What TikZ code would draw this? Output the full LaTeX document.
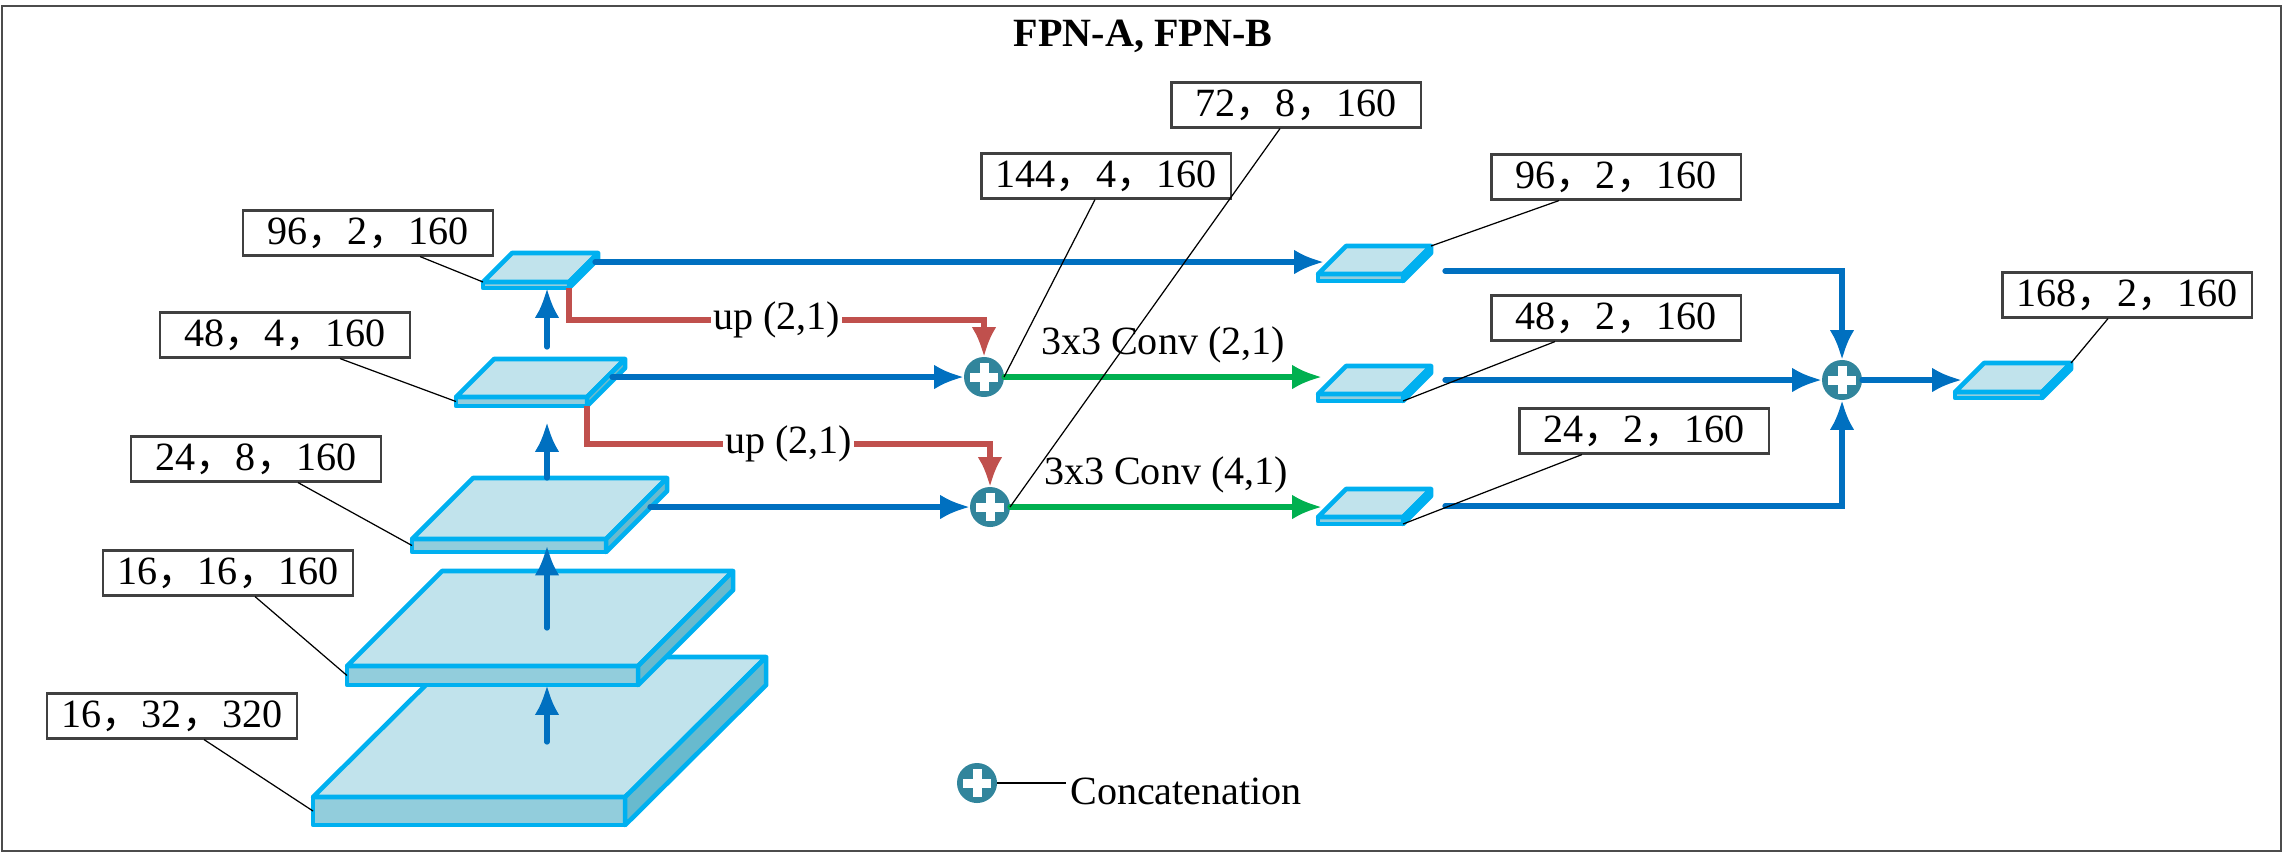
\documentclass[tikz,border=0pt]{standalone}
\usepackage{fontspec}
\setmainfont{Liberation Serif}
\newfontfamily\cjk{Noto Sans CJK SC}
\usetikzlibrary{arrows.meta}
\usetikzlibrary{positioning}

\newcommand{\dcomma}{{\cjk ，}}

\definecolor{slabline}{RGB}{0,176,240}
\definecolor{slabtop}{RGB}{193,227,236}
\definecolor{slabfront}{RGB}{146,205,220}
\definecolor{slabside}{RGB}{104,186,206}
\definecolor{arrblue}{RGB}{0,112,192}
\definecolor{arrred}{RGB}{192,80,77}
\definecolor{arrgreen}{RGB}{0,176,80}
\definecolor{plusteal}{RGB}{49,133,156}
\definecolor{boxgray}{RGB}{64,64,64}

\begin{document}
\begin{tikzpicture}[
    x=0.01cm, y=-0.01cm,
    font=\fontsize{11.4pt}{13pt}\selectfont,
    outerframe/.style={draw=gray!60!black, line width=0.7pt},
    box/.style={
        rectangle,
        draw=boxgray,
        line width=0.6pt,
        fill=white,
        minimum width={2.49cm},
        minimum height={0.45cm},
        inner sep=0pt
    },
    facefront/.style={
        rectangle,
        draw=slabline,
        fill=slabfront,
        line width=1.3pt,
        line join=round,
        inner sep=0pt,
        outer sep=0pt,
        anchor=north west
    },
    facetop/.style={draw=slabline, fill=slabtop, line width=1.3pt, line join=round},
    faceside/.style={draw=slabline, fill=slabside, line width=1.3pt, line join=round},
    plus/.style={
        circle,
        fill=plusteal,
        minimum size={0.4cm},
        inner sep=0pt,
        outer sep=0pt,
        path picture={
            \fill[white] ([xshift=-1.4mm,yshift=-0.45mm]path picture bounding box.center) rectangle ([xshift=1.4mm,yshift=0.45mm]path picture bounding box.center);
            \fill[white] ([xshift=-0.45mm,yshift=-1.4mm]path picture bounding box.center) rectangle ([xshift=0.45mm,yshift=1.4mm]path picture bounding box.center);
        }
    },
    arr/.style={-{Latex[length=8.5pt,width=7pt]}, line width=1.5pt, line cap=round},
    bluearr/.style={arr, draw=arrblue},
    redarr/.style={arr, draw=arrred, line cap=butt},
    greenarr/.style={arr, draw=arrgreen},
    uplabel/.style={fill=white, inner sep=0.5pt},
    leader/.style={draw=black, line width=0.35pt}
]
\useasboundingbox (0,0) rectangle (2283,854);
\draw[outerframe] (2,6) rectangle (2281,851);
\node [font=\fontsize{11.4pt}{13pt}\selectfont\bfseries] (title) at (1143,36) {FPN-A, FPN-B};

% left stack
\node [facefront, minimum width={3.12cm}, minimum height={0.28cm}] (s1) at (313,797) {};
\filldraw [facetop] (s1.north west) -- ++(141,-140) -- ++(312,0) -- (s1.north east) -- cycle;
\filldraw [faceside] (s1.north east) -- ++(141,-140) -- ++(0,28) -- (s1.south east) -- cycle;

\node [facefront, minimum width={2.91cm}, minimum height={0.19cm}] (s2) at (347,666) {};
\filldraw [facetop] (s2.north west) -- ++(95,-95) -- ++(291,0) -- (s2.north east) -- cycle;
\filldraw [faceside] (s2.north east) -- ++(95,-95) -- ++(0,19) -- (s2.south east) -- cycle;

\node [facefront, minimum width={1.94cm}, minimum height={0.13cm}] (s3) at (412,539) {};
\filldraw [facetop] (s3.north west) -- ++(61,-61) -- ++(194,0) -- (s3.north east) -- cycle;
\filldraw [faceside] (s3.north east) -- ++(61,-61) -- ++(0,13) -- (s3.south east) -- cycle;

\node [facefront, minimum width={1.31cm}, minimum height={0.09cm}] (s4) at (456,397) {};
\filldraw [facetop] (s4.north west) -- ++(38,-38) -- ++(131,0) -- (s4.north east) -- cycle;
\filldraw [faceside] (s4.north east) -- ++(38,-38) -- ++(0,9) -- (s4.south east) -- cycle;

\node [facefront, minimum width={0.86cm}, minimum height={0.06cm}] (s5) at (483,282) {};
\filldraw [facetop] (s5.north west) -- ++(29,-29) -- ++(86,0) -- (s5.north east) -- cycle;
\filldraw [faceside] (s5.north east) -- ++(29,-29) -- ++(0,6) -- (s5.south east) -- cycle;

% right slabs
\node [facefront, minimum width={0.85cm}, minimum height={0.07cm}] (s6) at (1318,274) {};
\filldraw [facetop] (s6.north west) -- ++(28,-28) -- ++(85,0) coordinate (s6br) -- (s6.north east) -- cycle;
\filldraw [faceside] (s6.north east) -- ++(28,-28) -- ++(0,7) -- (s6.south east) -- cycle;

\node [facefront, minimum width={0.85cm}, minimum height={0.07cm}] (s7) at (1318,394) {};
\filldraw [facetop] (s7.north west) -- ++(28,-28) -- ++(85,0) -- (s7.north east) -- cycle;
\filldraw [faceside] (s7.north east) -- ++(28,-28) -- ++(0,7) -- (s7.south east) -- cycle;

\node [facefront, minimum width={0.85cm}, minimum height={0.07cm}] (s8) at (1318,517) {};
\filldraw [facetop] (s8.north west) -- ++(28,-28) -- ++(85,0) -- (s8.north east) -- cycle;
\filldraw [faceside] (s8.north east) -- ++(28,-28) -- ++(0,7) -- (s8.south east) -- cycle;

\node [facefront, minimum width={0.87cm}, minimum height={0.06cm}] (s9) at (1955,392) {};
\filldraw [facetop] (s9.north west) -- ++(29,-29) -- ++(87,0) coordinate (s9br) -- (s9.north east) -- cycle;
\filldraw [faceside] (s9.north east) -- ++(29,-29) -- ++(0,6) -- (s9.south east) -- cycle;

% concatenations
\node [plus] (c1) at (984,377) {};
\node [plus] (c2) at (990,507) {};
\node [plus] (c3) at (1842,380) {};

\coordinate (v1) at (547,742);
\coordinate (v2) at (547,628);
\coordinate (v3) at (547,478);
\coordinate (t3) at (547,422);
\coordinate (v4) at (547,347);
\coordinate (s5o) at (595,262);
\coordinate (s4o) at (612,377);
\coordinate (s3o) at (650,507);
\coordinate (s6i) at (1324,262);
\coordinate (s7i) at (1322,377);
\coordinate (s8i) at (1322,507);
\coordinate (s6o) at (1445,271);
\coordinate (s7o) at (1445,380);
\coordinate (s8o) at (1445,506);
\coordinate (s9i) at (1962,380);
\coordinate (r1) at (0,320);
\coordinate (r2) at (0,444);

\draw [bluearr] (v1) -- (v1 |- s2.south);
\draw [bluearr] (v2) -- (v2 |- s3.center);
\draw [bluearr] (v3) -- (t3);
\draw [bluearr] (v4) -- (v4 |- s5.south);

\draw [bluearr] (s5o) -- (s6i);
\draw [bluearr] (s4o) -- (c1.west);
\draw [bluearr] (s3o) -- (c2.west);

\draw [redarr] (s5.south east) -- (s5.south east |- r1) -- node [uplabel] {up (2,1)} (c1.north |- r1) -- (c1.north);
\draw [redarr] (s4.south east) -- (s4.south east |- r2) -- node [uplabel] {up (2,1)} (c2.north |- r2) -- (c2.north);

\draw [greenarr] (c1.east) -- node [above] {3x3 Conv (2,1)} (s7i);
\draw [greenarr] (c2.east) -- node [above] {3x3 Conv (4,1)} (s8i);

\draw [bluearr] (s6o) -| (c3.north);
\draw [bluearr] (s7o) -- (c3.west);
\draw [bluearr] (s8o) -| (c3.south);
\draw [bluearr] (c3.east) -- (s9i);

% size labels
\node [box] (b1) at (172,716) {16\dcomma 32\dcomma 320};
\node [box] (b2) at (228,573) {16\dcomma 16\dcomma 160};
\node [box] (b3) at (256,459) {24\dcomma 8\dcomma 160};
\node [box] (b4) at (285,335) {48\dcomma 4\dcomma 160};
\node [box] (b5) at (368,233) {96\dcomma 2\dcomma 160};
\node [box] (bc1) at (1106,176) {144\dcomma 4\dcomma 160};
\node [box] (bc2) at (1296,105) {72\dcomma 8\dcomma 160};
\node [box] (b6) at (1616,177) {96\dcomma 2\dcomma 160};
\node [box] (b7) at (1616,318) {48\dcomma 2\dcomma 160};
\node [box] (b8) at (1644,431) {24\dcomma 2\dcomma 160};
\node [box] (b9) at (2127,295) {168\dcomma 2\dcomma 160};

\draw [leader] ([xshift=0.32cm]b1.south) -- (s1.west);
\draw [leader] ([xshift=0.27cm]b2.south) -- (s2.west);
\draw [leader] ([xshift=0.42cm]b3.south) -- (s3.west);
\draw [leader] ([xshift=0.55cm]b4.south) -- (s4.west);
\draw [leader] ([xshift=0.52cm]b5.south) -- (s5.north west);
\draw [leader] ([xshift=-0.11cm]bc1.south) -- (c1.east);
\draw [leader] ([xshift=-0.16cm]bc2.south) -- (c2.east);
\draw [leader] ([xshift=-0.57cm]b6.south) -- (s6br);
\draw [leader] ([xshift=-0.61cm]b7.south) -- (s7.south east);
\draw [leader] ([xshift=-0.62cm]b8.south) -- (s8.south east);
\draw [leader] ([xshift=-0.19cm]b9.south) -- (s9br);

% legend
\node [plus] (c0) at (977,783) {};
\node [right=0.69cm of c0, yshift=-0.08cm, inner sep=1pt] (legend) {Concatenation};
\draw [leader, line width=0.6pt] (c0.east) -- (c0.east -| legend.west);
\end{tikzpicture}
\end{document}
